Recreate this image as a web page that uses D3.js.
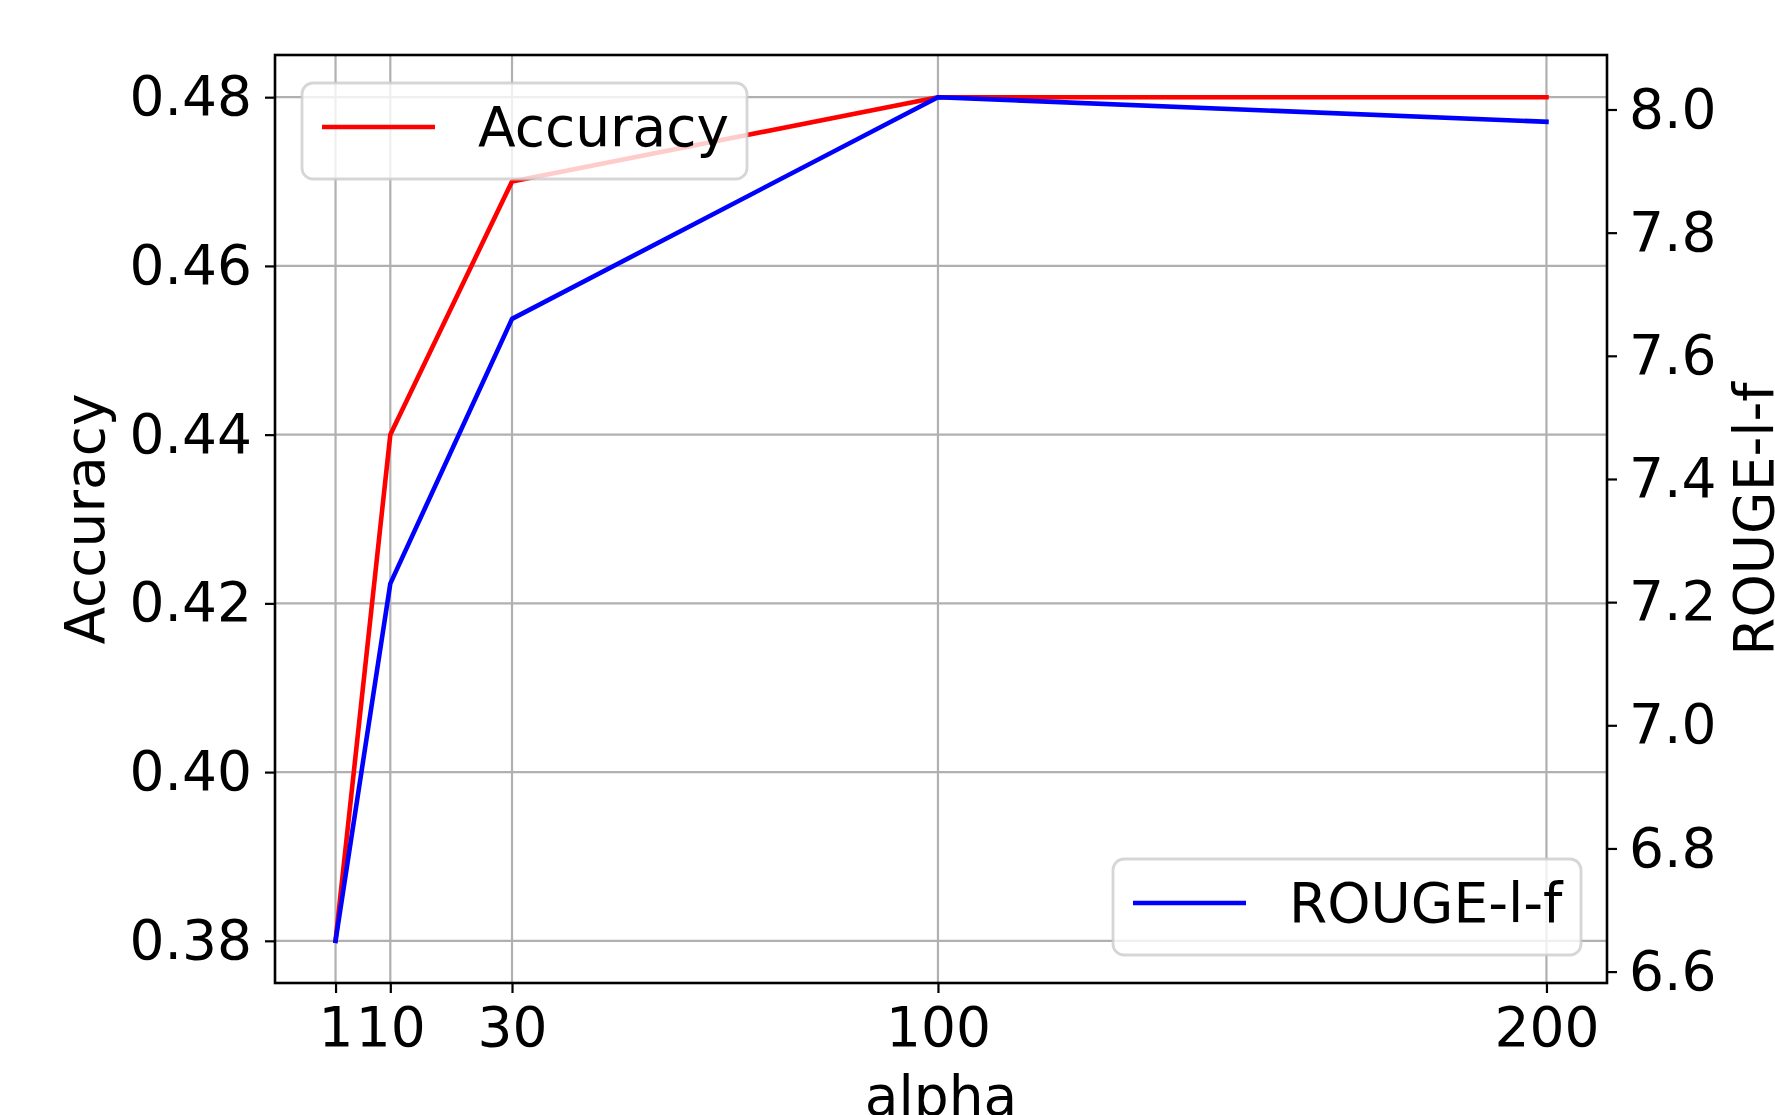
<!DOCTYPE html>
<html>
<head>
<meta charset="utf-8">
<script src="https://cdn.jsdelivr.net/npm/d3@7"></script>
<style>
  body { margin: 0; background: #fff; }
  text { font-family: "DejaVu Sans", sans-serif; fill: #000; }
</style>
</head>
<body>
<svg id="canvas"></svg>
<script>
// data
let alphas = [1, 10, 30, 100, 200];
let accuracy = [0.38, 0.44, 0.47, 0.48, 0.48];
let rouge = [6.65, 7.23, 7.66, 8.02, 7.98];

let xTicks = [1, 10, 30, 100, 200];
let accTicks = [0.38, 0.40, 0.42, 0.44, 0.46, 0.48];
let rougeTicks = [6.6, 6.8, 7.0, 7.2, 7.4, 7.6, 7.8, 8.0];

let width = 1775;
let height = 1115;
let plotLeft = 275, plotRight = 1607, plotTop = 55, plotBottom = 983;
let fontSize = 55;

let canvas = d3.select("#canvas").attr("width", width).attr("height", height);

// matplotlib style 5% margins
let padded = (arr) => {
  let lo = d3.min(arr), hi = d3.max(arr);
  let m = (hi - lo) * 0.05;
  return [lo - m, hi + m];
};

let xScale = d3.scaleLinear().domain(padded(alphas)).range([plotLeft, plotRight]);
let yAcc = d3.scaleLinear().domain(padded(accuracy)).range([plotBottom, plotTop]);
let yRouge = d3.scaleLinear().domain(padded(rouge)).range([plotBottom, plotTop]);

// grid
let grid = canvas.append("g").attr("stroke", "#b0b0b0").attr("stroke-width", 2.2);
grid.selectAll(".vg").data(xTicks).enter().append("line")
  .attr("x1", d => xScale(d)).attr("x2", d => xScale(d))
  .attr("y1", plotTop).attr("y2", plotBottom);
grid.selectAll(".hg").data(accTicks).enter().append("line")
  .attr("x1", plotLeft).attr("x2", plotRight)
  .attr("y1", d => yAcc(d)).attr("y2", d => yAcc(d));

// accuracy line
let accLine = d3.line().x((d, i) => xScale(alphas[i])).y(d => yAcc(d));
canvas.append("path").datum(accuracy)
  .attr("d", accLine)
  .attr("fill", "none").attr("stroke", "#ff0000").attr("stroke-width", 4.6)
  .attr("stroke-linecap", "square").attr("stroke-linejoin", "round");

let drawLegend = (x, y, w, color, label) => {
  let g = canvas.append("g");
  g.append("rect")
    .attr("x", x).attr("y", y).attr("width", w).attr("height", 96)
    .attr("rx", 11).attr("ry", 11)
    .attr("fill", "rgba(255,255,255,0.8)")
    .attr("stroke", "rgba(204,204,204,0.8)").attr("stroke-width", 2.8);
  g.append("line")
    .attr("x1", x + 20).attr("x2", x + 133)
    .attr("y1", y + 44).attr("y2", y + 44)
    .attr("stroke", color).attr("stroke-width", 4.6);
  g.append("text")
    .attr("x", x + 176).attr("y", y + 63)
    .attr("font-size", fontSize)
    .text(label);
};

// legend for accuracy (upper left)
drawLegend(302, 83, 445, "#ff0000", "Accuracy");

// rouge line (twin axis, drawn on top)
let rougeLine = d3.line().x((d, i) => xScale(alphas[i])).y(d => yRouge(d));
canvas.append("path").datum(rouge)
  .attr("d", rougeLine)
  .attr("fill", "none").attr("stroke", "#0000ff").attr("stroke-width", 4.6)
  .attr("stroke-linecap", "square").attr("stroke-linejoin", "round");

// legend for rouge (lower right)
drawLegend(1113, 859, 468, "#0000ff", "ROUGE-l-f");

// spines
canvas.append("rect")
  .attr("x", plotLeft).attr("y", plotTop)
  .attr("width", plotRight - plotLeft).attr("height", plotBottom - plotTop)
  .attr("fill", "none").attr("stroke", "#000").attr("stroke-width", 2.6);

// axes
let styleAxis = (g) => {
  g.select(".domain").remove();
  g.selectAll(".tick line").attr("stroke", "#000").attr("stroke-width", 2.2);
  g.selectAll(".tick text").attr("font-size", fontSize).attr("font-family", "DejaVu Sans");
};

let xAxis = d3.axisBottom(xScale).tickValues(xTicks).tickFormat(d3.format("d"))
  .tickSize(10).tickPadding(14);
canvas.append("g").attr("id", "x-axis")
  .attr("transform", "translate(0," + plotBottom + ")")
  .call(xAxis).call(styleAxis);

let yAxisLeft = d3.axisLeft(yAcc).tickValues(accTicks).tickFormat(d3.format(".2f"))
  .tickSize(10).tickPadding(13);
canvas.append("g").attr("id", "y-axis")
  .attr("transform", "translate(" + plotLeft + ",0)")
  .call(yAxisLeft).call(styleAxis);

let yAxisRight = d3.axisRight(yRouge).tickValues(rougeTicks).tickFormat(d3.format(".1f"))
  .tickSize(10).tickPadding(12);
canvas.append("g").attr("id", "y-axis-right")
  .attr("transform", "translate(" + plotRight + ",0)")
  .call(yAxisRight).call(styleAxis);

// axis titles (the reference crops these at the figure edge)
canvas.append("text")
  .attr("x", (plotLeft + plotRight) / 2).attr("y", 1115)
  .attr("text-anchor", "middle").attr("font-size", fontSize)
  .text("alpha");

canvas.append("text")
  .attr("transform", "translate(104," + (plotTop + plotBottom) / 2 + ") rotate(-90)")
  .attr("text-anchor", "middle").attr("font-size", fontSize)
  .text("Accuracy");

canvas.append("text")
  .attr("transform", "translate(1773," + (plotTop + plotBottom) / 2 + ") rotate(-90)")
  .attr("text-anchor", "middle").attr("font-size", fontSize)
  .text("ROUGE-l-f");
</script>
</body>
</html>
